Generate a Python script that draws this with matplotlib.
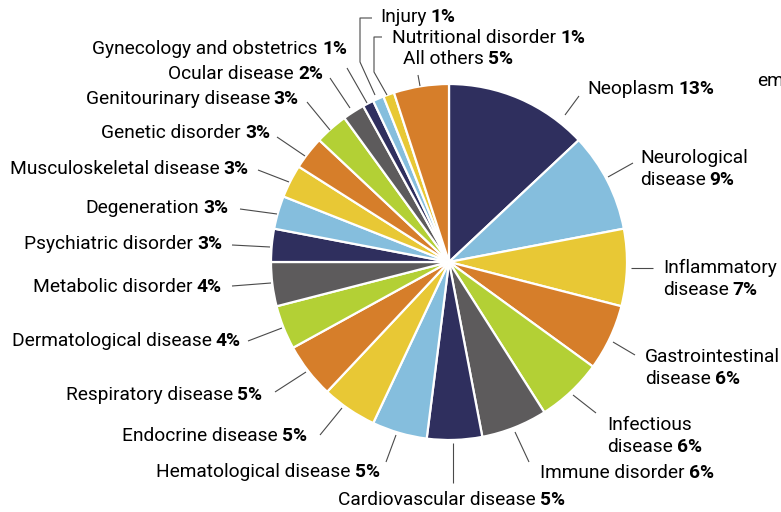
import matplotlib
matplotlib.use('Agg')
import matplotlib.pyplot as plt

plt.rcParams['font.family'] = ['Roboto', 'DejaVu Sans']

# data, clockwise from 12 o'clock
names = ['Neoplasm', 'Neurological\ndisease', 'Inflammatory\ndisease', 'Gastrointestinal\ndisease',
         'Infectious\ndisease', 'Immune disorder', 'Cardiovascular disease', 'Hematological disease',
         'Endocrine disease', 'Respiratory disease', 'Dermatological disease', 'Metabolic disorder',
         'Psychiatric disorder', 'Degeneration', 'Musculoskeletal disease', 'Genetic disorder',
         'Genitourinary disease', 'Ocular disease', 'Gynecology and obstetrics', 'Injury',
         'Nutritional disorder', 'All others']
shares = [13, 9, 7, 6, 6, 6, 5, 5, 5, 5, 4, 4, 3, 3, 3, 3, 3, 2, 1, 1, 1, 5]

palette = ['#2f2f5e', '#85bedd', '#e8c835', '#d67e2a', '#b3d035', '#5d5b5c']
colors = [palette[i % 6] for i in range(len(shares))]

W, H = 781, 512
fig = plt.figure(figsize=(W / 100, H / 100), dpi=100)
ax = fig.add_axes([0, 0, 1, 1])

cx, cy, r = 449, H - 262, 178
ax.pie(shares, colors=colors, startangle=90, counterclock=False, center=(cx, cy), radius=r,
       wedgeprops=dict(edgecolor='white', linewidth=1.6), frame=True)
ax.set_xlim(0, W)
ax.set_ylim(0, H)
ax.set_aspect('equal')
ax.axis('off')

# label placement in image pixels: (anchor x, first line y, align)
label_pos = [
    (587, 89, 'left'), (640, 158, 'left'), (663, 268, 'left'), (645, 357, 'left'),
    (607, 425, 'left'), (540, 473, 'left'), (338, 500, 'left'), (380, 472, 'right'),
    (307, 436, 'right'), (262, 395, 'right'), (241, 341, 'right'), (222, 287, 'right'),
    (222, 244, 'right'), (228, 208, 'right'), (249, 169, 'right'), (270, 133, 'right'),
    (299, 99, 'right'), (323, 74, 'right'), (347, 49, 'right'), (380, 17, 'left'),
    (392, 38, 'left'), (403, 59, 'left'),
]
# leader lines in image pixels
leaders = [
    [(565, 115), (579, 96)], [(608, 177), (633, 163)], [(631, 268), (653, 268)],
    [(613, 342), (635, 355)], [(573, 395), (596, 413)], [(515, 432), (529, 462)],
    [(453, 443), (453, 483)], [(396, 435), (386, 462)], [(342, 408), (320, 435)],
    [(306, 372), (275, 392)], [(282, 328), (248, 341)], [(271, 283), (232, 286)],
    [(270, 247), (232, 245)], [(277, 214), (240, 209)], [(289, 182), (258, 170)],
    [(305, 156), (277, 137)], [(330, 130), (307, 102)], [(350, 108), (330, 78)],
    [(367, 103), (347, 68)], [(375, 95), (360, 62), (360, 18), (372, 18)],
    [(387, 95), (374, 72), (374, 37), (382, 37)], [(420, 86), (418, 75)],
]

fs = 13.8
line_h = 22
renderer = fig.canvas.get_renderer()


def width_of(s, bold):
    t = ax.text(0, 0, s, fontsize=fs, fontweight='bold' if bold else 'normal')
    w = t.get_window_extent(renderer).width
    t.remove()
    return w


gap = 4
for name, pct, (x, y, ha), pts in zip(names, shares, label_pos, leaders):
    xs = [p[0] for p in pts]
    ys = [H - p[1] for p in pts]
    ax.plot(xs, ys, color='#4a4a4a', lw=0.8, solid_capstyle='butt')
    lines = name.split('\n')
    for i, ln in enumerate(lines):
        yy = H - (y + i * line_h)
        last = i == len(lines) - 1
        tail = f'{pct}%' if last else ''
        w1 = width_of(ln, False) + (gap if last else 0)
        w2 = width_of(tail, True) if tail else 0
        x0 = x if ha == 'left' else x - w1 - w2
        ax.text(x0, yy, ln, fontsize=fs, va='center', ha='left', color='black')
        if tail:
            ax.text(x0 + w1, yy, tail, fontsize=fs, va='center', ha='left',
                    fontweight='bold', color='black')

# partly visible text cut at the right edge
ax.text(757, H - 81, 'em', fontsize=fs, va='center', ha='left', color='black')

fig.savefig('out.png', dpi=100)
